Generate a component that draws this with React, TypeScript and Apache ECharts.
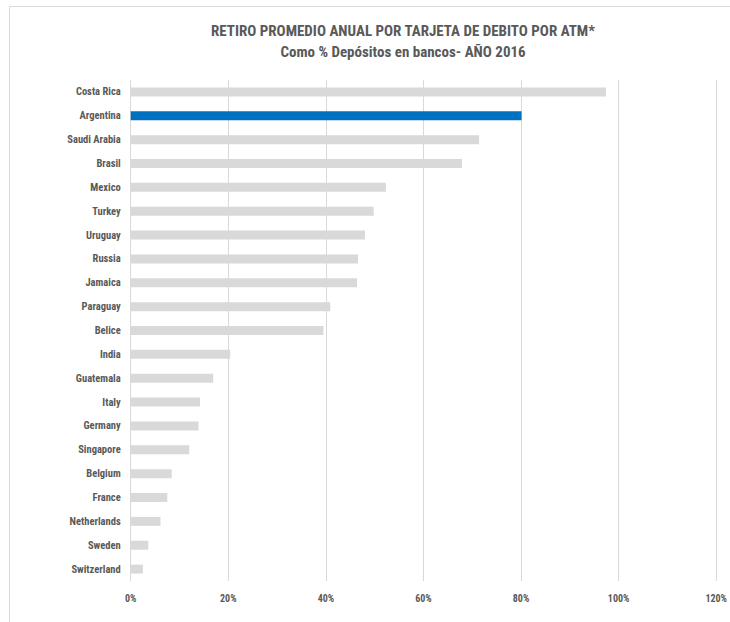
import React, { useEffect, useRef } from "react";
import * as echarts from "echarts";

const categories = [
  "Costa Rica", "Argentina", "Saudi Arabia", "Brasil", "Mexico", "Turkey", "Uruguay",
  "Russia", "Jamaica", "Paraguay", "Belice", "India", "Guatemala", "Italy", "Germany",
  "Singapore", "Belgium", "France", "Netherlands", "Sweden", "Switzerland",
];
const values = [
  97.4, 80.1, 71.4, 67.9, 52.3, 49.8, 48.0, 46.6, 46.4, 40.9, 39.5, 20.4, 16.9, 14.2,
  13.9, 12.0, 8.4, 7.5, 6.1, 3.6, 2.5,
];
const highlight = "Argentina";
const titleText = "RETIRO PROMEDIO ANUAL POR TARJETA DE DEBITO POR ATM*";
const subtitleText = "Como % Depósitos en bancos- AÑO 2016";

const FONT = "'Liberation Sans Narrow', 'Roboto Condensed', 'Open Sans', 'Liberation Sans', sans-serif";

export default function App() {
  const ref = useRef<HTMLDivElement>(null);
  useEffect(() => {
    if (!ref.current) return;
    const chart = echarts.init(ref.current, null, { renderer: "svg" });
    const cats = [...categories].reverse();
    const vals = [...values].reverse();
    chart.setOption({
      animation: false,
      backgroundColor: "#ffffff",
      graphic: [
        {
          type: "rect",
          shape: { x: 9.5, y: 6.5, width: 760, height: 640 },
          style: { fill: "none", stroke: "#d9d9d9", lineWidth: 1 },
          silent: true,
        },
        {
          type: "text",
          x: 403,
          y: 31,
          style: {
            text: titleText,
            fill: "#595959",
            font: `bold 15px ${FONT}`,
            textAlign: "center",
            textVerticalAlign: "middle",
          },
        },
        {
          type: "text",
          x: 403,
          y: 52,
          style: {
            text: subtitleText,
            fill: "#595959",
            font: `bold 15px ${FONT}`,
            textAlign: "center",
            textVerticalAlign: "middle",
          },
        },
      ],
      grid: { left: 130.7, right: 9, top: 80, bottom: 41, containLabel: false },
      xAxis: {
        type: "value",
        min: 0,
        max: 120,
        interval: 20,
        axisLine: { show: false },
        axisTick: { show: false },
        splitLine: { show: true, lineStyle: { color: "#d9d9d9", width: 1 } },
        axisLabel: {
          formatter: "{value}%",
          color: "#595959",
          fontFamily: FONT,
          fontWeight: "bold",
          fontSize: 10,
          margin: 12,
        },
      },
      yAxis: {
        type: "category",
        data: cats,
        axisLine: { show: true, lineStyle: { color: "#d9d9d9" } },
        axisTick: { show: false },
        axisLabel: {
          color: "#595959",
          fontFamily: FONT,
          fontWeight: "bold",
          fontSize: 10.5,
          margin: 10,
        },
      },
      series: [
        {
          type: "bar",
          data: vals.map((v, i) => ({
            value: v,
            itemStyle: { color: cats[i] === highlight ? "#0070c0" : "#d9d9d9" },
          })),
          barWidth: 9,
        },
      ],
    });
    return () => chart.dispose();
  }, []);
  return <div ref={ref} style={{ width: 730, height: 622, position: "absolute", left: 0, top: 0 }} />;
}
